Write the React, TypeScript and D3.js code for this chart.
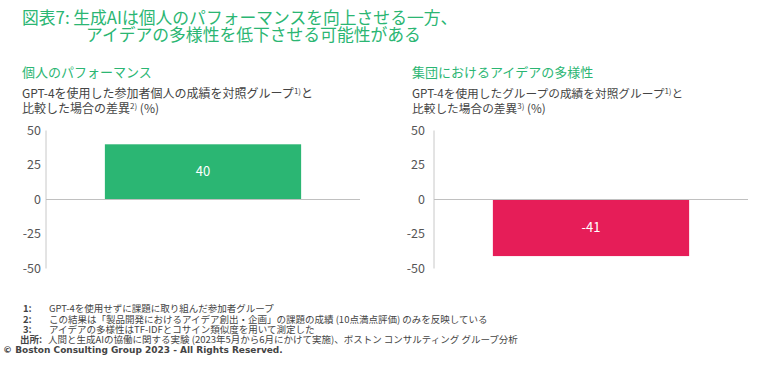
import { useMemo } from 'react';
import * as d3 from 'd3';

const TITLE_LINES = ['図表7: 生成AIは個人のパフォーマンスを向上させる一方、', 'アイデアの多様性を低下させる可能性がある'];
const PANEL_TITLES = ['個人のパフォーマンス', '集団におけるアイデアの多様性'];
const PANEL_SUB1 = ['GPT-4を使用した参加者個人の成績を対照グループ', 'GPT-4を使用したグループの成績を対照グループ'];
const PANEL_SUP = ['2)', '3)'];
const CATEGORIES = ['GPT-4'];
const VALUES = [40, -41];
const Y_TICKS = [50, 25, 0, -25, -50];
const FOOTNOTES = [
  ['1:', 'GPT-4を使用せずに課題に取り組んだ参加者グループ'],
  ['2:', 'この結果は「製品開発におけるアイデア創出・企画」の課題の成績 (10点満点評価) のみを反映している'],
  ['3:', 'アイデアの多様性はTF-IDFとコサイン類似度を用いて測定した'],
];
const SOURCE = '人間と生成AIの協働に関する実験 (2023年5月から6月にかけて実施)、ボストン コンサルティング グループ分析';
const COPYRIGHT = '© Boston Consulting Group 2023 - All Rights Reserved.';

const WIDTH = 768;
const HEIGHT = 366;
const FONT = '"Noto Sans CJK JP", "Noto Sans", sans-serif';
const GREEN = '#2BB673';
const PINK = '#E61D58';
const TEXT = '#444';

// panel placement: x of y-axis, tick label gap
const PANELS = [
  { x0: 46, tickGap: 5, textX: 22, subSize: 12 },
  { x0: 434, tickGap: 9, textX: 412, subSize: 11.7 },
];

function Panel({ idx }: { idx: number }) {
  const p = PANELS[idx];
  const value = VALUES[idx];
  const y = useMemo(() => d3.scaleLinear().domain([-50, 50]).range([268.5, 130.5]), []);
  const x = useMemo(
    () => d3.scaleBand().domain(CATEGORIES).range([p.x0, p.x0 + 314]).paddingInner(0).paddingOuter(0.3),
    [p.x0]
  );
  const bx = x(CATEGORIES[0]) ?? 0;
  const bw = x.bandwidth();
  const top = y(Math.max(0, value));
  const bottom = y(Math.min(0, value));
  return (
    <g>
      <text x={p.textX} y={77} fontSize={13} fill={GREEN}>{PANEL_TITLES[idx]}</text>
      <text x={p.textX} y={98} fontSize={p.subSize} fill={TEXT}>
        {PANEL_SUB1[idx]}
        <tspan fontSize={8} dy={-4}>1)</tspan>
        <tspan dy={4}>と</tspan>
      </text>
      <text x={p.textX} y={113} fontSize={p.subSize} fill={TEXT}>
        比較した場合の差異
        <tspan fontSize={8} dy={-4}>{PANEL_SUP[idx]}</tspan>
        <tspan dy={4}> (%)</tspan>
      </text>
      {Y_TICKS.map((t) => (
        <text key={t} x={p.x0 - p.tickGap} y={y(t)} dy="0.35em" textAnchor="end" fontSize={12.5} fill="#555">
          {t}
        </text>
      ))}
      <line x1={p.x0} x2={p.x0} y1={y(50)} y2={y(-50)} stroke="#c8c8c8" strokeWidth={1} />
      <rect x={bx} y={top} width={bw} height={bottom - top} fill={value >= 0 ? GREEN : PINK} />
      <line x1={p.x0} x2={p.x0 + 314} y1={y(0)} y2={y(0)} stroke="#c0c0c0" strokeWidth={1.2} />
      <text x={bx + bw / 2} y={(top + bottom) / 2} dy="0.35em" textAnchor="middle" fontSize={13} fill="#fff">
        {value}
      </text>
    </g>
  );
}

export default function App() {
  return (
    <svg width={WIDTH} height={HEIGHT} viewBox={`0 0 ${WIDTH} ${HEIGHT}`} fontFamily={FONT}
      style={{ position: 'absolute', left: 0, top: 0, background: '#fff' }}>
      <text x={22} y={24} fontSize={16.8} fill={GREEN}>{TITLE_LINES[0]}</text>
      <text x={86} y={40.5} fontSize={16.8} fill={GREEN}>{TITLE_LINES[1]}</text>
      <Panel idx={0} />
      <Panel idx={1} />
      {FOOTNOTES.map(([k, t], i) => (
        <g key={k} fontSize={9.5} fill={TEXT}>
          <text x={23} y={312 + i * 10.5} fontWeight="bold">{k}</text>
          <text x={49} y={312 + i * 10.5}>{t}</text>
        </g>
      ))}
      <g fontSize={9.5} fill={TEXT}>
        <text x={20} y={343} fontWeight="bold">出所:</text>
        <text x={48} y={343}>{SOURCE}</text>
      </g>
      <text x={3} y={353} fontSize={9} fontWeight="bold" fill={TEXT} fontFamily='"DejaVu Sans", sans-serif'>
        {COPYRIGHT}
      </text>
    </svg>
  );
}
